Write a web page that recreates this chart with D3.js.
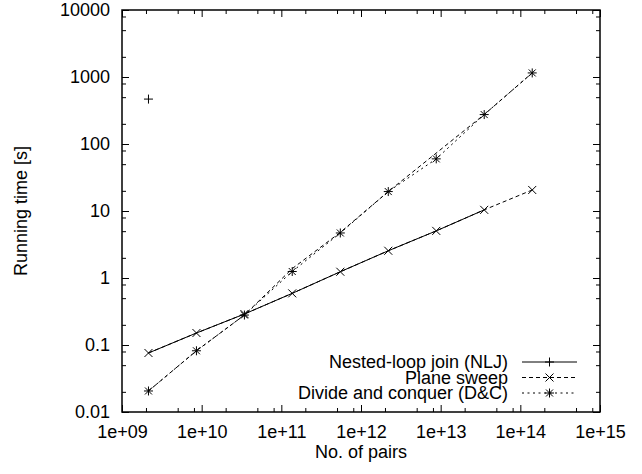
<!DOCTYPE html>
<html>
<head>
<meta charset="utf-8">
<script src="https://cdn.jsdelivr.net/npm/d3@7"></script>
<style>
    body { margin: 0; background: #fff; }
    svg text { font-family: "Liberation Sans", Arial, Helvetica, sans-serif; font-size: 18px; fill: #000; }
</style>
</head>
<body>
<svg id="chart" width="642" height="474"></svg>
<script>

    // ------------------------------------------------------
    // DATA
    // ------------------------------------------------------
    var pairs = [2.15e9, 8.6e9, 3.44e10, 1.37e11, 5.5e11, 2.2e12, 8.8e12, 3.52e13, 1.41e14];

    // nested-loop join only finished on the smallest input
    var nljPairs = [2.15e9];
    var nljTime = [468];

    var planeSweepTime = [0.076, 0.151, 0.29, 0.59, 1.24, 2.55, 5.05, 10.4, 20.6];
    var dcTime = [0.0206, 0.082, 0.28, 1.25, 4.7, 19.5, 60, 275, 1150];

    // untitled runs that reuse the solid / dashed line styles
    var extraSolidPairs = pairs.slice(0, 8);
    var extraSolidTime = [0.076, 0.151, 0.29, 0.59, 1.24, 2.55, 5.05, 10.4];
    var extraDashedPairs = [2.15e9, 8.6e9, 3.44e10, 1.37e11, 5.5e11, 2.2e12, 3.52e13, 1.41e14];
    var extraDashedTime = [0.0206, 0.082, 0.28, 1.38, 4.8, 19.5, 275, 1150];

    var xMajor = [1e9, 1e10, 1e11, 1e12, 1e13, 1e14, 1e15];
    var yMajor = [0.01, 0.1, 1, 10, 100, 1000, 10000];
    var minorSteps = [2, 5, 8];

    var series = [
        { name: "Nested-loop join (NLJ)", x: nljPairs, y: nljTime, dash: null, marker: "plus", legend: true },
        { name: "Plane sweep", x: pairs, y: planeSweepTime, dash: "4,3", marker: "cross", legend: true },
        { name: "Divide and conquer (D&C)", x: pairs, y: dcTime, dash: "2,3.5", marker: "star", legend: true },
        { name: "", x: extraSolidPairs, y: extraSolidTime, dash: null, marker: null, legend: false },
        { name: "", x: extraDashedPairs, y: extraDashedTime, dash: "4,3", marker: null, legend: false }
    ];

    // --------------------------------------------------
    // Chart setup
    // --------------------------------------------------
    var svg = d3.select("#chart"),
        margin = {top: 10, right: 42, bottom: 62, left: 122},
        width = +svg.attr("width") - margin.left - margin.right,
        height = +svg.attr("height") - margin.top - margin.bottom,
        g = svg.append("g").attr("transform", "translate(" + margin.left + "," + margin.top + ")");

    var x = d3.scaleLog().domain([1e9, 1e15]).range([0, width]);
    var y = d3.scaleLog().domain([0.01, 10000]).range([height, 0]);

    function minorTicks(majors) {
        var out = [];
        for (var i = 0; i < majors.length - 1; i++) {
            minorSteps.forEach(function(s) { out.push(majors[i] * s); });
        }
        return out;
    }

    function xLabel(d) {
        var e = Math.round(Math.log10(d));
        return "1e+" + (e < 10 ? "0" + e : e);
    }

    // --------------------------------------------------
    // Axes: gnuplot style, ticks inward on all four sides
    // --------------------------------------------------
    function drawAxis(axis, transform) {
        var a = g.append("g")
            .attr("transform", transform)
            .call(axis);
        a.select(".domain").remove();
        a.selectAll("line").attr("stroke", "#000").attr("stroke-width", 1);
        a.selectAll("text").style("font-size", "18px").attr("fill", "#000");
        return a;
    }

    drawAxis(d3.axisBottom(x).tickValues(xMajor).tickSize(-7).tickPadding(13).tickFormat(xLabel), "translate(0," + height + ")");
    drawAxis(d3.axisBottom(x).tickValues(minorTicks(xMajor)).tickSize(-4).tickFormat(""), "translate(0," + height + ")");
    drawAxis(d3.axisTop(x).tickValues(xMajor).tickSize(-7).tickFormat(""), "translate(0,0)");
    drawAxis(d3.axisTop(x).tickValues(minorTicks(xMajor)).tickSize(-4).tickFormat(""), "translate(0,0)");

    drawAxis(d3.axisLeft(y).tickValues(yMajor).tickSize(-7).tickPadding(12).tickFormat(function(d) { return String(d); }), "translate(0,0)");
    drawAxis(d3.axisLeft(y).tickValues(minorTicks(yMajor)).tickSize(-4).tickFormat(""), "translate(0,0)");
    drawAxis(d3.axisRight(y).tickValues(yMajor).tickSize(-7).tickFormat(""), "translate(" + width + ",0)");
    drawAxis(d3.axisRight(y).tickValues(minorTicks(yMajor)).tickSize(-4).tickFormat(""), "translate(" + width + ",0)");

    g.append("rect")
        .attr("width", width)
        .attr("height", height)
        .attr("fill", "none")
        .attr("stroke", "#000")
        .attr("stroke-width", 1.5);

    g.append("text")
        .attr("transform", "rotate(-90)")
        .attr("x", -height / 2)
        .attr("y", -95)
        .attr("text-anchor", "middle")
        .text("Running time [s]");

    g.append("text")
        .attr("x", width / 2)
        .attr("y", height + 46)
        .attr("text-anchor", "middle")
        .text("No. of pairs");

    // --------------------------------------------------
    // Markers
    // --------------------------------------------------
    var markerPaths = {
        plus: "M-4.5,0H4.5M0,-4.5V4.5",
        cross: "M-4,-4L4,4M-4,4L4,-4",
        star: "M-4.5,0H4.5M0,-4.5V4.5M-3.5,-3.5L3.5,3.5M-3.5,3.5L3.5,-3.5"
    };

    var line = d3.line()
        .x(function(d) { return x(d[0]); })
        .y(function(d) { return y(d[1]); });

    series.forEach(function(s) {
        var pts = s.x.map(function(v, i) { return [v, s.y[i]]; });

        if (pts.length > 1) {
            g.append("path")
                .datum(pts)
                .attr("fill", "none")
                .attr("stroke", "#000")
                .attr("stroke-width", 1)
                .attr("stroke-dasharray", s.dash)
                .attr("d", line);
        }

        if (s.marker) {
            g.append("g").selectAll("path")
                .data(pts)
                .enter().append("path")
                .attr("transform", function(d) { return "translate(" + x(d[0]) + "," + y(d[1]) + ")"; })
                .attr("d", markerPaths[s.marker])
                .attr("fill", "none")
                .attr("stroke", "#000")
                .attr("stroke-width", 1);
        }
    });

    // --------------------------------------------------
    // Legend (bottom right, text right-aligned)
    // --------------------------------------------------
    var legend = g.append("g")
        .selectAll("g")
        .data(series.filter(function(s) { return s.legend; }))
        .enter().append("g")
        .attr("transform", function(d, i) { return "translate(0," + (352 + i * 15.5) + ")"; });

    legend.append("text")
        .attr("x", 386)
        .attr("dy", "0.35em")
        .attr("text-anchor", "end")
        .text(function(d) { return d.name; });

    legend.append("line")
        .attr("x1", 400)
        .attr("x2", 455)
        .attr("stroke", "#000")
        .attr("stroke-width", 1)
        .attr("stroke-dasharray", function(d) { return d.dash; });

    legend.append("path")
        .attr("transform", "translate(427.5,0)")
        .attr("d", function(d) { return markerPaths[d.marker]; })
        .attr("fill", "none")
        .attr("stroke", "#000")
        .attr("stroke-width", 1);

</script>
</body>
</html>
